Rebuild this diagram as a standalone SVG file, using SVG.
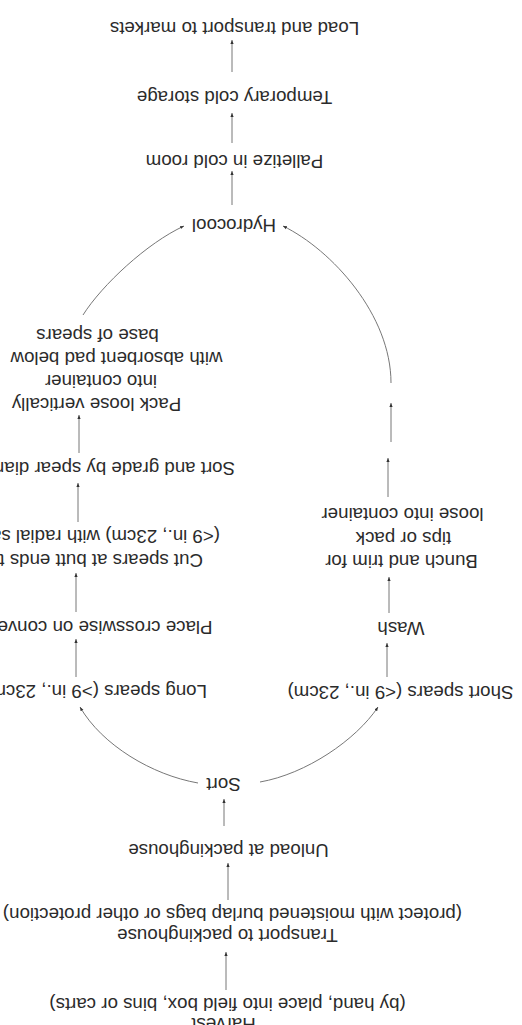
<svg xmlns="http://www.w3.org/2000/svg" width="522" height="1025" viewBox="0 0 522 1025">
<style>
text{font-family:"Liberation Sans",Arial,sans-serif;font-size:18.7px;fill:#2b2b2b}
.c{text-anchor:middle}
.s{text-anchor:start}
.ln{fill:none;stroke:#777;stroke-width:1}
</style>
<defs>
<marker id="ah" markerUnits="userSpaceOnUse" markerWidth="5" markerHeight="5" refX="4" refY="2.5" orient="auto">
<path d="M0,0.9 L4,2.5 L0,4.1 z" fill="#333"/>
</marker>
</defs>
<rect x="0" y="0" width="522" height="1025" fill="#ffffff"/>
<g transform="rotate(180 261 512.5)">
<g id="connectors">
<path class="ln" d="M296,35 V73" marker-end="url(#ah)"/>
<path class="ln" d="M294,125 V162" marker-end="url(#ah)"/>
<path class="ln" d="M298,199 V226" marker-end="url(#ah)"/>
<path class="ln" d="M324,242 C370,250 420,280 442,318" marker-end="url(#ah)"/>
<path class="ln" d="M262,243 C216,251 166,285 144,318" marker-end="url(#ah)"/>
<path class="ln" d="M446,348 V386" marker-end="url(#ah)"/>
<path class="ln" d="M446,413 V452" marker-end="url(#ah)"/>
<path class="ln" d="M444,503 V542" marker-end="url(#ah)"/>
<path class="ln" d="M443,572 V610" marker-end="url(#ah)"/>
<path class="ln" d="M135,348 V382" marker-end="url(#ah)"/>
<path class="ln" d="M133,412 V448" marker-end="url(#ah)"/>
<path class="ln" d="M134,528 V567" marker-end="url(#ah)"/>
<path class="ln" d="M131,583 V622" marker-end="url(#ah)"/>
<path class="ln" d="M439,710 C420,740 375,782 338,799" marker-end="url(#ah)"/>
<path class="ln" d="M131,642 C131,710 190,775 239,799" marker-end="url(#ah)"/>
<path class="ln" d="M290,820 V854" marker-end="url(#ah)"/>
<path class="ln" d="M290,882 V912" marker-end="url(#ah)"/>
<path class="ln" d="M290,953 V985" marker-end="url(#ah)"/>
</g>
<g id="n-harvest"><text class="c" x="298.5" y="7">Harvest</text><text class="c" x="294.5" y="26.7">(by hand, place into field box, bins or carts)</text></g>
<g id="n-transport"><text class="c" x="294.5" y="95.7">Transport to packinghouse</text><text class="s" x="60" y="116.7">(protect with moistened burlap bags or other protection)</text></g>
<g id="n-unload"><text class="c" x="293.5" y="180.7">Unload at packinghouse</text></g>
<g id="n-sort"><text class="c" x="298.5" y="246.7">Sort</text></g>
<g id="n-long"><text class="s" x="315" y="339.7">Long spears (&gt;9 in., 23cm)</text></g>
<g id="n-place"><text class="s" x="309.5" y="403.7">Place crosswise on conveyor</text></g>
<g id="n-cut"><text class="s" x="319" y="470.7">Cut spears at butt ends to</text><text class="s" x="302" y="494.7">(&lt;9 in., 23cm) with radial saw</text></g>
<g id="n-grade"><text class="s" x="287" y="562.7">Sort and grade by spear diameter</text></g>
<g id="n-pack"><text class="c" x="425.5" y="627">Pack loose vertically</text><text class="c" x="421" y="650">into container</text><text class="c" x="405.5" y="673">with absorbent pad below</text><text class="c" x="424.5" y="696">base of spears</text></g>
<g id="n-short"><text class="c" x="121.5" y="338.7">Short spears (&lt;9 in., 23cm)</text></g>
<g id="n-wash"><text class="c" x="121" y="402.7">Wash</text></g>
<g id="n-bunch"><text class="c" x="120.5" y="469.7">Bunch and trim for</text><text class="c" x="118.5" y="493.2">tips or pack</text><text class="c" x="119.5" y="516.7">loose into container</text></g>
<g id="n-hydro"><text class="c" x="288" y="805.7">Hydrocool</text></g>
<g id="n-pallet"><text class="c" x="287.5" y="870.2">Palletize in cold room</text></g>
<g id="n-temp"><text class="c" x="287.5" y="934.2">Temporary cold storage</text></g>
<g id="n-load"><text class="c" x="287.5" y="1002.7">Load and transport to markets</text></g>
</g>
</svg>
